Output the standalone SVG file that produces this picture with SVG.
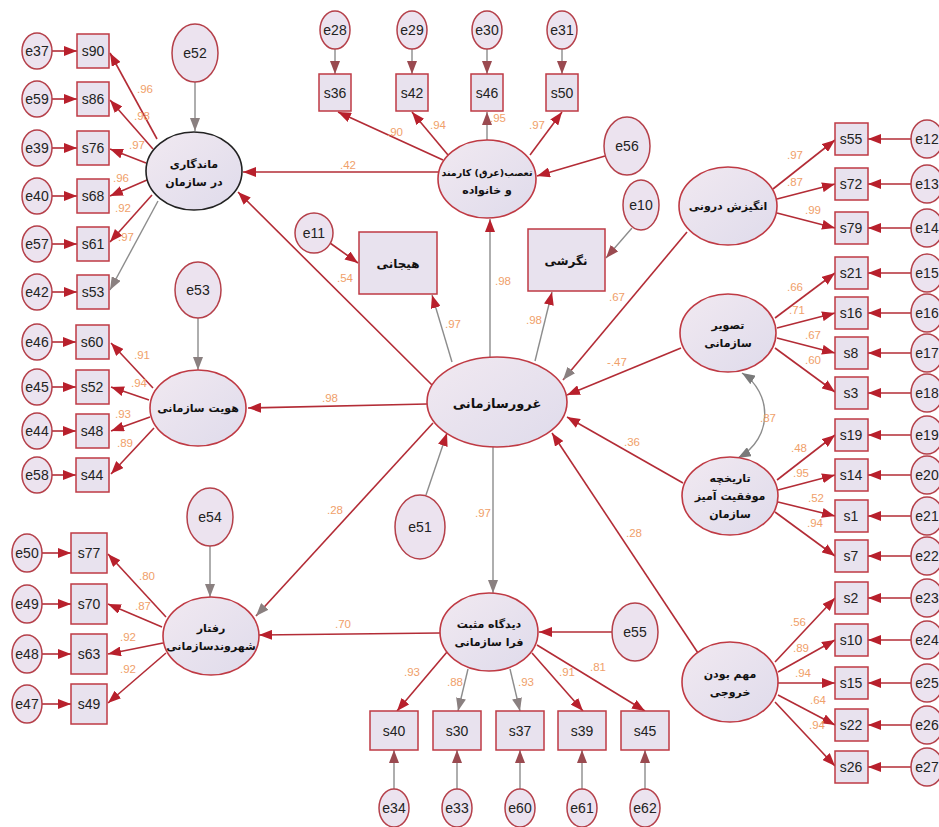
<svg xmlns="http://www.w3.org/2000/svg" width="939" height="827" viewBox="0 0 939 827">
<defs>
<linearGradient id="lg" x1="0" y1="0" x2="1" y2="1">
<stop offset="0" stop-color="#f1e9f1"/>
<stop offset="1" stop-color="#dfdbeb"/>
</linearGradient>
<marker id="ar" markerUnits="userSpaceOnUse" markerWidth="13" markerHeight="10" refX="13" refY="5" orient="auto">
<path d="M0,0 L13,5 L0,10 z" fill="#b8202c"/>
</marker>
<marker id="ag" markerUnits="userSpaceOnUse" markerWidth="13" markerHeight="10" refX="13" refY="5" orient="auto">
<path d="M0,0 L13,5 L0,10 z" fill="#8a8080"/>
</marker>
<marker id="am" markerUnits="userSpaceOnUse" markerWidth="13" markerHeight="10" refX="13" refY="5" orient="auto">
<path d="M0,0 L13,5 L0,10 z" fill="#9a4a50"/>
</marker>
<marker id="as" markerUnits="userSpaceOnUse" markerWidth="13" markerHeight="10" refX="13" refY="5" orient="auto-start-reverse">
<path d="M0,0 L13,5 L0,10 z" fill="#7a7a7a"/>
</marker>
</defs>
<style>
.e{fill:#ece3ef;stroke:#b5404a;stroke-width:1.5}
.lat{fill:url(#lg);stroke:#bf3a44;stroke-width:1.6}
.box{fill:#e8e2ee;stroke:#bf3a44;stroke-width:1.5}
.t{font-family:"Liberation Sans",Arial,sans-serif;font-size:14px;fill:#222;text-anchor:middle;dominant-baseline:central}
.fa{font-family:"DejaVu Sans","Noto Sans",sans-serif;font-weight:bold;font-size:11px;fill:#111;text-anchor:middle;direction:rtl}
.n{font-family:"Liberation Sans",Arial,sans-serif;font-size:11.5px;fill:#f0a06a;text-anchor:middle}
.r{stroke:#b32c36;stroke-width:1.6;fill:none;marker-end:url(#ar)}
.g{stroke:#8c8c8c;stroke-width:1.4;fill:none;marker-end:url(#ag)}
.gr{stroke:#8c8c8c;stroke-width:1.4;fill:none;marker-end:url(#ar)}
.gm{stroke:#8c8c8c;stroke-width:1.4;fill:none;marker-end:url(#am)}
.rg{stroke:#b32c36;stroke-width:1.6;fill:none;marker-end:url(#ag)}
</style>
<rect width="939" height="827" fill="#ffffff"/>

<g id="connectors">
<line class="r" x1="52" y1="51" x2="77" y2="51"/>
<line class="r" x1="52" y1="99" x2="77" y2="99"/>
<line class="r" x1="52" y1="148" x2="77" y2="148"/>
<line class="r" x1="52" y1="196" x2="77" y2="196"/>
<line class="r" x1="52" y1="244" x2="77" y2="244"/>
<line class="r" x1="52" y1="292" x2="77" y2="292"/>
<line class="r" x1="157" y1="139" x2="110" y2="53"/>
<line class="r" x1="153" y1="149" x2="110" y2="100"/>
<line class="r" x1="146" y1="163" x2="110" y2="149"/>
<line class="r" x1="147" y1="180" x2="110" y2="196"/>
<line class="r" x1="152" y1="195" x2="110" y2="242"/>
<line class="g" x1="158" y1="201" x2="110" y2="290"/>
<line class="g" x1="195" y1="82" x2="195" y2="131"/>
<line class="r" x1="52" y1="342" x2="76" y2="342"/>
<line class="r" x1="52" y1="387" x2="76" y2="387"/>
<line class="r" x1="52" y1="431" x2="76" y2="431"/>
<line class="r" x1="52" y1="475" x2="76" y2="475"/>
<line class="r" x1="153" y1="388" x2="111" y2="343"/>
<line class="r" x1="149" y1="400" x2="111" y2="387"/>
<line class="r" x1="150" y1="417" x2="111" y2="431"/>
<line class="r" x1="154" y1="428" x2="111" y2="474"/>
<line class="g" x1="198" y1="318" x2="198" y2="370"/>
<line class="r" x1="42" y1="553" x2="71" y2="553"/>
<line class="r" x1="42" y1="604" x2="71" y2="604"/>
<line class="r" x1="42" y1="654" x2="71" y2="654"/>
<line class="r" x1="42" y1="704" x2="71" y2="704"/>
<line class="r" x1="166" y1="617" x2="108" y2="554"/>
<line class="r" x1="162" y1="627" x2="108" y2="604"/>
<line class="r" x1="163" y1="643" x2="108" y2="654"/>
<line class="r" x1="166" y1="653" x2="108" y2="703"/>
<line class="g" x1="210" y1="546" x2="210" y2="597"/>
<line class="gm" x1="335" y1="49" x2="335" y2="74"/>
<line class="gm" x1="412" y1="49" x2="412" y2="74"/>
<line class="gm" x1="487" y1="49" x2="487" y2="74"/>
<line class="gm" x1="562" y1="49" x2="562" y2="74"/>
<line class="r" x1="443" y1="160" x2="338" y2="112"/>
<line class="r" x1="448" y1="155" x2="412" y2="112"/>
<line class="gm" x1="487" y1="140" x2="487" y2="112"/>
<line class="r" x1="530" y1="155" x2="562" y2="112"/>
<line class="r" x1="605" y1="156" x2="537" y2="176"/>
<line class="r" x1="438" y1="172" x2="243" y2="172"/>
<line class="r" x1="432" y1="385" x2="238" y2="192"/>
<line class="r" x1="330" y1="243" x2="358" y2="263"/>
<line class="gr" x1="452" y1="362" x2="432" y2="295"/>
<line class="gr" x1="490" y1="358" x2="490" y2="219"/>
<line class="gr" x1="535" y1="361" x2="552" y2="292"/>
<line class="gm" x1="632" y1="228" x2="606" y2="258"/>
<line class="rg" x1="687" y1="232" x2="563" y2="380"/>
<line class="r" x1="681" y1="348" x2="567" y2="395"/>
<line class="r" x1="683" y1="483" x2="567" y2="417"/>
<line class="r" x1="698" y1="653" x2="552" y2="433"/>
<line class="r" x1="427" y1="404" x2="248" y2="408"/>
<line class="rg" x1="433" y1="423" x2="256" y2="616"/>
<line class="gr" x1="426" y1="495" x2="447" y2="433"/>
<line class="g" x1="493" y1="447" x2="493" y2="593"/>
<line class="r" x1="440" y1="633" x2="259" y2="635"/>
<line class="r" x1="612" y1="632" x2="539" y2="632"/>
<line class="r" x1="447" y1="652" x2="397" y2="711"/>
<line class="g" x1="468" y1="669" x2="458" y2="711"/>
<line class="g" x1="510" y1="669" x2="520" y2="711"/>
<line class="r" x1="532" y1="653" x2="583" y2="711"/>
<line class="r" x1="537" y1="645" x2="645" y2="711"/>
<line class="gm" x1="394" y1="789" x2="394" y2="750"/>
<line class="gm" x1="457" y1="789" x2="457" y2="750"/>
<line class="gm" x1="520" y1="789" x2="520" y2="750"/>
<line class="gm" x1="582" y1="789" x2="582" y2="750"/>
<line class="gm" x1="645" y1="789" x2="645" y2="750"/>
<line class="r" x1="773" y1="189" x2="835" y2="140"/>
<line class="r" x1="777" y1="199" x2="835" y2="184"/>
<line class="r" x1="777" y1="213" x2="835" y2="228"/>
<line class="r" x1="775" y1="318" x2="835" y2="273"/>
<line class="r" x1="777" y1="328" x2="835" y2="313"/>
<line class="r" x1="777" y1="338" x2="835" y2="353"/>
<line class="r" x1="775" y1="348" x2="835" y2="392"/>
<line class="r" x1="777" y1="480" x2="835" y2="435"/>
<line class="r" x1="778" y1="490" x2="835" y2="475"/>
<line class="r" x1="778" y1="502" x2="835" y2="516"/>
<line class="r" x1="775" y1="512" x2="835" y2="556"/>
<line class="r" x1="775" y1="662" x2="835" y2="598"/>
<line class="r" x1="778" y1="672" x2="835" y2="640"/>
<line class="r" x1="778" y1="683" x2="835" y2="683"/>
<line class="r" x1="778" y1="695" x2="835" y2="725"/>
<line class="r" x1="775" y1="702" x2="835" y2="766"/>
<line class="r" x1="911" y1="139" x2="868" y2="139"/>
<line class="r" x1="911" y1="184" x2="868" y2="184"/>
<line class="r" x1="911" y1="228" x2="868" y2="228"/>
<line class="r" x1="911" y1="273" x2="868" y2="273"/>
<line class="r" x1="911" y1="313" x2="868" y2="313"/>
<line class="r" x1="911" y1="353" x2="868" y2="353"/>
<line class="r" x1="911" y1="393" x2="868" y2="393"/>
<line class="r" x1="911" y1="435" x2="868" y2="435"/>
<line class="r" x1="911" y1="475" x2="868" y2="475"/>
<line class="r" x1="911" y1="516" x2="868" y2="516"/>
<line class="r" x1="911" y1="556" x2="868" y2="556"/>
<line class="r" x1="911" y1="598" x2="868" y2="598"/>
<line class="r" x1="911" y1="640" x2="868" y2="640"/>
<line class="r" x1="911" y1="683" x2="868" y2="683"/>
<line class="r" x1="911" y1="725" x2="868" y2="725"/>
<line class="r" x1="911" y1="767" x2="868" y2="767"/>
<path d="M742,373 C772,392 774,438 738,458" stroke="#8c8c8c" stroke-width="1.4" fill="none" marker-start="url(#as)" marker-end="url(#as)"/>
</g>

<g id="loadings">
<text class="n" x="145" y="93">.96</text>
<text class="n" x="142" y="120">.98</text>
<text class="n" x="137" y="149">.97</text>
<text class="n" x="121" y="182">.96</text>
<text class="n" x="123" y="212">.92</text>
<text class="n" x="126" y="241">.97</text>
<text class="n" x="142" y="359">.91</text>
<text class="n" x="139" y="387">.94</text>
<text class="n" x="123" y="418">.93</text>
<text class="n" x="125" y="447">.89</text>
<text class="n" x="147" y="580">.80</text>
<text class="n" x="143" y="610">.87</text>
<text class="n" x="128" y="641">.92</text>
<text class="n" x="128" y="673">.92</text>
<text class="n" x="395" y="136">.90</text>
<text class="n" x="438" y="129">.94</text>
<text class="n" x="498" y="122">.95</text>
<text class="n" x="537" y="129">.97</text>
<text class="n" x="348" y="169">.42</text>
<text class="n" x="345" y="282">.54</text>
<text class="n" x="453" y="328">.97</text>
<text class="n" x="503" y="285">.98</text>
<text class="n" x="534" y="324">.98</text>
<text class="n" x="617" y="301">.67</text>
<text class="n" x="617" y="366">-.47</text>
<text class="n" x="330" y="402">.98</text>
<text class="n" x="632" y="446">.36</text>
<text class="n" x="335" y="514">.28</text>
<text class="n" x="483" y="517">.97</text>
<text class="n" x="634" y="537">.28</text>
<text class="n" x="343" y="628">.70</text>
<text class="n" x="412" y="676">.93</text>
<text class="n" x="455" y="686">.88</text>
<text class="n" x="526" y="686">.93</text>
<text class="n" x="567" y="676">.91</text>
<text class="n" x="598" y="671">.81</text>
<text class="n" x="795" y="159">.97</text>
<text class="n" x="795" y="186">.87</text>
<text class="n" x="813" y="214">.99</text>
<text class="n" x="795" y="291">.66</text>
<text class="n" x="797" y="314">.71</text>
<text class="n" x="813" y="339">.67</text>
<text class="n" x="813" y="364">.60</text>
<text class="n" x="768" y="422">.87</text>
<text class="n" x="799" y="452">.48</text>
<text class="n" x="801" y="477">.95</text>
<text class="n" x="816" y="502">.52</text>
<text class="n" x="815" y="527">.94</text>
<text class="n" x="798" y="626">.56</text>
<text class="n" x="801" y="652">.89</text>
<text class="n" x="803" y="677">.94</text>
<text class="n" x="818" y="704">.64</text>
<text class="n" x="817" y="729">.94</text>
</g>

<g id="mandegari"><ellipse cx="194" cy="171" rx="48" ry="39" class="lat" style="stroke:#222"/><text class="fa" x="194" y="168">ماندگاری</text><text class="fa" x="194" y="186">در سازمان</text></g>
<g id="hoviat"><ellipse cx="198" cy="408" rx="48" ry="38" class="lat"/><text class="fa" x="198" y="412">هویت سازمانی</text></g>
<g id="raftar"><ellipse cx="211" cy="636" rx="48" ry="39" class="lat"/><text class="fa" x="211" y="632">رفتار</text><text class="fa" x="211" y="650">شهروندسازمانی</text></g>
<g id="taasob"><ellipse cx="487" cy="179" rx="49" ry="39" class="lat"/><text class="fa" x="487" y="176" style="font-size:9.5px">تعصب(عرق) کارمند</text><text class="fa" x="487" y="194">و خانواده</text></g>
<g id="ghorur"><ellipse cx="497" cy="402" rx="70" ry="45" class="lat"/><text class="fa" x="497" y="408" style="font-size:13px">غرورسازمانی</text></g>
<g id="didgah"><ellipse cx="489" cy="632" rx="49" ry="39" class="lat"/><text class="fa" x="489" y="628">دیدگاه مثبت</text><text class="fa" x="489" y="646">فرا سازمانی</text></g>
<g id="angizesh"><ellipse cx="728" cy="206" rx="49" ry="39" class="lat"/><text class="fa" x="728" y="210">انگیزش درونی</text></g>
<g id="tasvir"><ellipse cx="728" cy="333" rx="48" ry="39" class="lat"/><text class="fa" x="728" y="329">تصویر</text><text class="fa" x="728" y="347">سازمانی</text></g>
<g id="tarikhche"><ellipse cx="730" cy="496" rx="48" ry="39" class="lat"/><text class="fa" x="730" y="482">تاریخچه</text><text class="fa" x="730" y="500">موفقیت آمیز</text><text class="fa" x="730" y="518">سازمان</text></g>
<g id="mohem"><ellipse cx="730" cy="682" rx="48" ry="40" class="lat"/><text class="fa" x="730" y="678">مهم بودن</text><text class="fa" x="730" y="696">خروجی</text></g>
<g id="hayajani"><rect x="359" y="232" width="78" height="62" class="box"/><text class="fa" x="398" y="268" style="font-size:12px">هیجانی</text></g>
<g id="negareshi"><rect x="528" y="229" width="77" height="62" class="box"/><text class="fa" x="566" y="265" style="font-size:12px">نگرشی</text></g>

<g id="e52"><ellipse cx="195" cy="53" rx="23" ry="29" class="e"/><text class="t" x="195" y="53">e52</text></g>
<g id="e53"><ellipse cx="198" cy="290" rx="23" ry="28" class="e"/><text class="t" x="198" y="290">e53</text></g>
<g id="e54"><ellipse cx="210" cy="517" rx="23" ry="29" class="e"/><text class="t" x="210" y="517">e54</text></g>
<g id="e56"><ellipse cx="627" cy="146" rx="23" ry="29" class="e"/><text class="t" x="627" y="146">e56</text></g>
<g id="e10"><ellipse cx="641" cy="205" rx="18" ry="25" class="e"/><text class="t" x="641" y="205">e10</text></g>
<g id="e11"><ellipse cx="314" cy="233" rx="19" ry="20" class="e"/><text class="t" x="314" y="233">e11</text></g>
<g id="e51"><ellipse cx="420" cy="527" rx="25" ry="32" class="e"/><text class="t" x="420" y="527">e51</text></g>
<g id="e55"><ellipse cx="635" cy="632" rx="23" ry="29" class="e"/><text class="t" x="635" y="632">e55</text></g>

<g id="n-e37"><ellipse cx="37" cy="51" rx="15" ry="18" class="e"/><text class="t" x="37" y="51">e37</text></g>
<g id="n-e59"><ellipse cx="37" cy="99" rx="15" ry="18" class="e"/><text class="t" x="37" y="99">e59</text></g>
<g id="n-e39"><ellipse cx="37" cy="148" rx="15" ry="18" class="e"/><text class="t" x="37" y="148">e39</text></g>
<g id="n-e40"><ellipse cx="37" cy="196" rx="15" ry="18" class="e"/><text class="t" x="37" y="196">e40</text></g>
<g id="n-e57"><ellipse cx="37" cy="244" rx="15" ry="18" class="e"/><text class="t" x="37" y="244">e57</text></g>
<g id="n-e42"><ellipse cx="37" cy="292" rx="15" ry="18" class="e"/><text class="t" x="37" y="292">e42</text></g>
<g id="n-s90"><rect x="77" y="34" width="32" height="34" class="box"/><text class="t" x="93" y="51">s90</text></g>
<g id="n-s86"><rect x="77" y="82" width="32" height="34" class="box"/><text class="t" x="93" y="99">s86</text></g>
<g id="n-s76"><rect x="77" y="131" width="32" height="34" class="box"/><text class="t" x="93" y="148">s76</text></g>
<g id="n-s68"><rect x="77" y="179" width="32" height="34" class="box"/><text class="t" x="93" y="196">s68</text></g>
<g id="n-s61"><rect x="77" y="227" width="32" height="34" class="box"/><text class="t" x="93" y="244">s61</text></g>
<g id="n-s53"><rect x="77" y="275" width="32" height="34" class="box"/><text class="t" x="93" y="292">s53</text></g>

<g id="n-e46"><ellipse cx="37" cy="342" rx="15" ry="18" class="e"/><text class="t" x="37" y="342">e46</text></g>
<g id="n-e45"><ellipse cx="37" cy="387" rx="15" ry="18" class="e"/><text class="t" x="37" y="387">e45</text></g>
<g id="n-e44"><ellipse cx="37" cy="431" rx="15" ry="18" class="e"/><text class="t" x="37" y="431">e44</text></g>
<g id="n-e58"><ellipse cx="37" cy="475" rx="15" ry="18" class="e"/><text class="t" x="37" y="475">e58</text></g>
<g id="n-s60"><rect x="76" y="325" width="33" height="34" class="box"/><text class="t" x="92" y="342">s60</text></g>
<g id="n-s52"><rect x="76" y="370" width="33" height="34" class="box"/><text class="t" x="92" y="387">s52</text></g>
<g id="n-s48"><rect x="76" y="414" width="33" height="34" class="box"/><text class="t" x="92" y="431">s48</text></g>
<g id="n-s44"><rect x="76" y="458" width="33" height="34" class="box"/><text class="t" x="92" y="475">s44</text></g>

<g id="n-e50"><ellipse cx="27" cy="553" rx="15" ry="19" class="e"/><text class="t" x="27" y="553">e50</text></g>
<g id="n-e49"><ellipse cx="27" cy="604" rx="15" ry="19" class="e"/><text class="t" x="27" y="604">e49</text></g>
<g id="n-e48"><ellipse cx="27" cy="654" rx="15" ry="19" class="e"/><text class="t" x="27" y="654">e48</text></g>
<g id="n-e47"><ellipse cx="27" cy="704" rx="15" ry="19" class="e"/><text class="t" x="27" y="704">e47</text></g>
<g id="n-s77"><rect x="71" y="533" width="36" height="40" class="box"/><text class="t" x="89" y="553">s77</text></g>
<g id="n-s70"><rect x="71" y="584" width="36" height="40" class="box"/><text class="t" x="89" y="604">s70</text></g>
<g id="n-s63"><rect x="71" y="634" width="36" height="40" class="box"/><text class="t" x="89" y="654">s63</text></g>
<g id="n-s49"><rect x="71" y="684" width="36" height="40" class="box"/><text class="t" x="89" y="704">s49</text></g>

<g id="n-e28"><ellipse cx="335" cy="30" rx="15" ry="19" class="e"/><text class="t" x="335" y="30">e28</text></g>
<g id="n-e29"><ellipse cx="412" cy="30" rx="15" ry="19" class="e"/><text class="t" x="412" y="30">e29</text></g>
<g id="n-e30"><ellipse cx="487" cy="30" rx="15" ry="19" class="e"/><text class="t" x="487" y="30">e30</text></g>
<g id="n-e31"><ellipse cx="562" cy="30" rx="15" ry="19" class="e"/><text class="t" x="562" y="30">e31</text></g>
<g id="n-s36"><rect x="319" y="74" width="32" height="37" class="box"/><text class="t" x="335" y="93">s36</text></g>
<g id="n-s42"><rect x="396" y="74" width="32" height="37" class="box"/><text class="t" x="412" y="93">s42</text></g>
<g id="n-s46"><rect x="471" y="74" width="32" height="37" class="box"/><text class="t" x="487" y="93">s46</text></g>
<g id="n-s50"><rect x="546" y="74" width="32" height="37" class="box"/><text class="t" x="562" y="93">s50</text></g>

<g id="n-s40"><rect x="370" y="711" width="48" height="39" class="box"/><text class="t" x="394" y="731">s40</text></g>
<g id="n-s30"><rect x="433" y="711" width="48" height="39" class="box"/><text class="t" x="457" y="731">s30</text></g>
<g id="n-s37"><rect x="496" y="711" width="48" height="39" class="box"/><text class="t" x="520" y="731">s37</text></g>
<g id="n-s39"><rect x="558" y="711" width="48" height="39" class="box"/><text class="t" x="582" y="731">s39</text></g>
<g id="n-s45"><rect x="621" y="711" width="48" height="39" class="box"/><text class="t" x="645" y="731">s45</text></g>
<g id="n-e34"><ellipse cx="394" cy="808" rx="15" ry="19" class="e"/><text class="t" x="394" y="808">e34</text></g>
<g id="n-e33"><ellipse cx="457" cy="808" rx="15" ry="19" class="e"/><text class="t" x="457" y="808">e33</text></g>
<g id="n-e60"><ellipse cx="520" cy="808" rx="15" ry="19" class="e"/><text class="t" x="520" y="808">e60</text></g>
<g id="n-e61"><ellipse cx="582" cy="808" rx="15" ry="19" class="e"/><text class="t" x="582" y="808">e61</text></g>
<g id="n-e62"><ellipse cx="645" cy="808" rx="15" ry="19" class="e"/><text class="t" x="645" y="808">e62</text></g>

<g id="n-s55"><rect x="835" y="123" width="33" height="32" class="box"/><text class="t" x="851" y="139">s55</text></g>
<g id="n-s72"><rect x="835" y="168" width="33" height="32" class="box"/><text class="t" x="851" y="184">s72</text></g>
<g id="n-s79"><rect x="835" y="212" width="33" height="32" class="box"/><text class="t" x="851" y="228">s79</text></g>
<g id="n-s21"><rect x="835" y="257" width="33" height="32" class="box"/><text class="t" x="851" y="273">s21</text></g>
<g id="n-s16"><rect x="835" y="297" width="33" height="32" class="box"/><text class="t" x="851" y="313">s16</text></g>
<g id="n-s8"><rect x="835" y="337" width="33" height="32" class="box"/><text class="t" x="851" y="353">s8</text></g>
<g id="n-s3"><rect x="835" y="377" width="33" height="32" class="box"/><text class="t" x="851" y="393">s3</text></g>
<g id="n-s19"><rect x="835" y="419" width="33" height="32" class="box"/><text class="t" x="851" y="435">s19</text></g>
<g id="n-s14"><rect x="835" y="459" width="33" height="32" class="box"/><text class="t" x="851" y="475">s14</text></g>
<g id="n-s1"><rect x="835" y="500" width="33" height="32" class="box"/><text class="t" x="851" y="516">s1</text></g>
<g id="n-s7"><rect x="835" y="540" width="33" height="32" class="box"/><text class="t" x="851" y="556">s7</text></g>
<g id="n-s2"><rect x="835" y="582" width="33" height="32" class="box"/><text class="t" x="851" y="598">s2</text></g>
<g id="n-s10"><rect x="835" y="624" width="33" height="32" class="box"/><text class="t" x="851" y="640">s10</text></g>
<g id="n-s15"><rect x="835" y="667" width="33" height="32" class="box"/><text class="t" x="851" y="683">s15</text></g>
<g id="n-s22"><rect x="835" y="709" width="33" height="32" class="box"/><text class="t" x="851" y="725">s22</text></g>
<g id="n-s26"><rect x="835" y="751" width="33" height="32" class="box"/><text class="t" x="851" y="767">s26</text></g>
<g id="n-e12"><ellipse cx="927" cy="139" rx="16" ry="19" class="e"/><text class="t" x="927" y="139">e12</text></g>
<g id="n-e13"><ellipse cx="927" cy="184" rx="16" ry="19" class="e"/><text class="t" x="927" y="184">e13</text></g>
<g id="n-e14"><ellipse cx="927" cy="228" rx="16" ry="19" class="e"/><text class="t" x="927" y="228">e14</text></g>
<g id="n-e15"><ellipse cx="927" cy="273" rx="16" ry="19" class="e"/><text class="t" x="927" y="273">e15</text></g>
<g id="n-e16"><ellipse cx="927" cy="313" rx="16" ry="19" class="e"/><text class="t" x="927" y="313">e16</text></g>
<g id="n-e17"><ellipse cx="927" cy="353" rx="16" ry="19" class="e"/><text class="t" x="927" y="353">e17</text></g>
<g id="n-e18"><ellipse cx="927" cy="393" rx="16" ry="19" class="e"/><text class="t" x="927" y="393">e18</text></g>
<g id="n-e19"><ellipse cx="927" cy="435" rx="16" ry="19" class="e"/><text class="t" x="927" y="435">e19</text></g>
<g id="n-e20"><ellipse cx="927" cy="475" rx="16" ry="19" class="e"/><text class="t" x="927" y="475">e20</text></g>
<g id="n-e21"><ellipse cx="927" cy="516" rx="16" ry="19" class="e"/><text class="t" x="927" y="516">e21</text></g>
<g id="n-e22"><ellipse cx="927" cy="556" rx="16" ry="19" class="e"/><text class="t" x="927" y="556">e22</text></g>
<g id="n-e23"><ellipse cx="927" cy="598" rx="16" ry="19" class="e"/><text class="t" x="927" y="598">e23</text></g>
<g id="n-e24"><ellipse cx="927" cy="640" rx="16" ry="19" class="e"/><text class="t" x="927" y="640">e24</text></g>
<g id="n-e25"><ellipse cx="927" cy="683" rx="16" ry="19" class="e"/><text class="t" x="927" y="683">e25</text></g>
<g id="n-e26"><ellipse cx="927" cy="725" rx="16" ry="19" class="e"/><text class="t" x="927" y="725">e26</text></g>
<g id="n-e27"><ellipse cx="927" cy="767" rx="16" ry="19" class="e"/><text class="t" x="927" y="767">e27</text></g>
</svg>
